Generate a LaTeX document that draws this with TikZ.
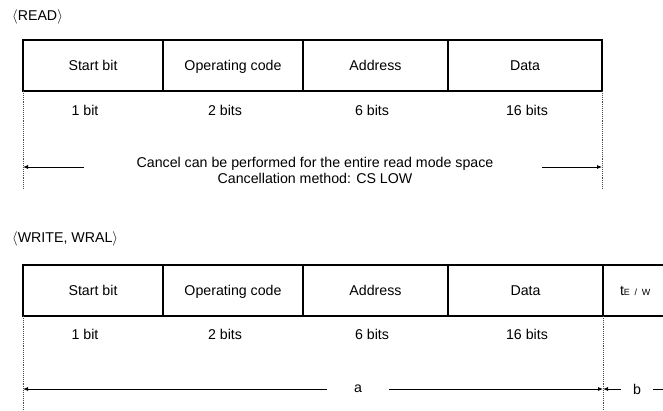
\documentclass[tikz,border=0pt]{standalone}
\usepackage{fontspec}
\setmainfont{Liberation Sans}
\usetikzlibrary{positioning, arrows.meta}

\begin{document}
\begin{tikzpicture}[x = 1pt, y = -1pt, > = {Latex[length = 5pt, width = 4pt]},
	every node/.style = {font = \fontsize{14.2}{16}\selectfont},
	field/.style = {draw, line width = 1.8pt, outer sep = 0pt, inner sep = 0pt, minimum height = 51pt,
		text height = 10.2pt, text depth = 0pt},
	guide/.style = {gray!60!black, densely dotted, line width = 0.9pt},
	dim/.style = {line width = 0.8pt}]

	% Picture size

	\useasboundingbox (0, 0) rectangle (663, 410);
	\clip (0, 0) rectangle (663, 410);

	% READ frame

	\node [anchor = west, inner sep = 0pt] (readLbl) at (12, 17) {$\langle$READ$\rangle$};

	\node [field, minimum width = 140pt] (rStart) at (93, 65.5) {Start bit};
	\node [field, minimum width = 140pt, right = 0pt of rStart] (rOp) {Operating code};
	\node [field, minimum width = 145pt, right = 0pt of rOp] (rAddr) {Address};
	\node [field, minimum width = 154pt, right = 0pt of rAddr] (rData) {Data};

	\foreach \name/\x/\txt in {r1/85/1 bit, r2/225/2 bits, r6/372/6 bits, r16/527/16 bits}
		\node (\name) at (\x, 110) {\txt};

	\coordinate (rBotL) at (23, 188);
	\coordinate (rBotR) at (602, 188);
	\draw [guide] (rStart.south west) -- (rBotL);
	\draw [guide] (rData.south east) -- (rBotR);

	% Cancel range

	\node [align = center] (cancel) at (315, 170) {Cancel can be performed for the entire read mode space\\Cancellation method: CS LOW};

	\coordinate (cTailL) at (84, 167);
	\coordinate (cTipL) at (23, 167);
	\coordinate (cTailR) at (542, 167);
	\coordinate (cTipR) at (602, 167);
	\draw [dim, ->] (cTailL) -- (cTipL);
	\draw [dim, ->] (cTailR) -- (cTipR);

	% WRITE, WRAL frame

	\node [anchor = west, inner sep = 0pt] (writeLbl) at (12, 239) {$\langle$WRITE, WRAL$\rangle$};

	\node [field, minimum width = 140pt] (wStart) at (93, 290.5) {Start bit};
	\node [field, minimum width = 140pt, right = 0pt of wStart] (wOp) {Operating code};
	\node [field, minimum width = 145pt, right = 0pt of wOp] (wAddr) {Address};
	\node [field, minimum width = 155pt, right = 0pt of wAddr] (wData) {Data};
	\node [field, inner xsep = 17pt, text width = 66pt, align = left, right = 0pt of wData] (wTime)
		{t{\fontsize{9}{10}\selectfont E / W}};

	\foreach \name/\x/\txt in {w1/85/1 bit, w2/225/2 bits, w6/372/6 bits, w16/527/16 bits}
		\node (\name) at (\x, 334) {\txt};

	\coordinate (wBotL) at (23, 410);
	\coordinate (wBotR) at (603, 410);
	\draw [guide] (wStart.south west) -- (wBotL);
	\draw [guide] (wData.south east) -- (wBotR);

	% Times a and b

	\node [inner xsep = 27pt] (a) at (358, 389) {a};
	\node [inner xsep = 12pt] (b) at (637, 389) {b};

	\coordinate (aL) at (23, 389);
	\coordinate (aR) at (603, 389);
	\coordinate (bR) at (690, 389);
	\draw [dim, ->] (a.west) -- (aL);
	\draw [dim, ->] (a.east) -- (aR);
	\draw [dim, ->] (b.west) -- (aR);
	\draw [dim, ->] (b.east) -- (bR);

\end{tikzpicture}
\end{document}
